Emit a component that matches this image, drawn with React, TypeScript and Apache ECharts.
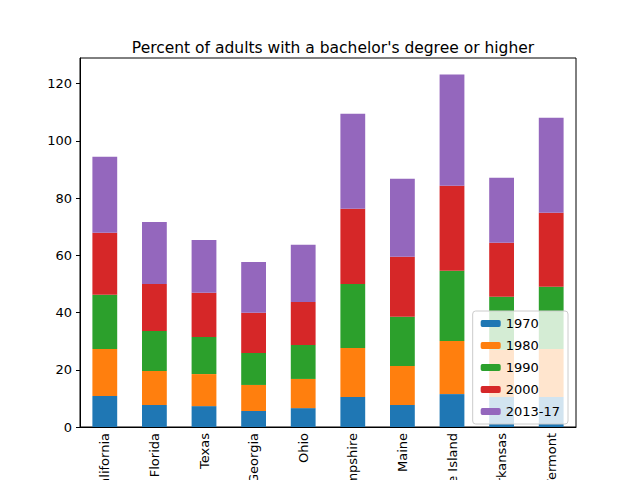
import { useEffect, useRef } from 'react';
import * as echarts from 'echarts';

const states = ['California', 'Florida', 'Texas', 'Georgia', 'Ohio', 'New Hampshire', 'Maine', 'Rhode Island', 'Arkansas', 'Vermont'];
const y1970 = [10.8, 7.7, 7.3, 5.6, 6.6, 10.5, 7.7, 11.5, 10.5, 10.5];
const y1980 = [16.5, 11.9, 11.2, 9.1, 10.2, 17.1, 13.6, 18.6, 16.5, 16.8];
const y1990 = [18.9, 14.0, 13.0, 11.2, 11.9, 22.4, 17.2, 24.5, 18.5, 21.7];
const y2000 = [21.7, 16.4, 15.4, 14.0, 15.0, 26.3, 21.0, 29.7, 18.9, 25.9];
const y2013 = [26.6, 21.7, 18.5, 17.8, 20.0, 33.2, 27.3, 38.9, 22.7, 33.2];

const seriesNames = ['1970', '1980', '1990', '2000', '2013-17'];
const seriesData = [y1970, y1980, y1990, y2000, y2013];
const colors = ['#1f77b4', '#ff7f0e', '#2ca02c', '#d62728', '#9467bd'];

export default function App() {
  const ref = useRef<HTMLDivElement>(null);

  useEffect(() => {
    if (!ref.current) return;
    const chart = echarts.init(ref.current, undefined, { renderer: 'svg' });
    chart.setOption({
      animation: false,
      textStyle: { fontFamily: 'DejaVu Sans' },
      title: {
        text: "Percent of adults with a bachelor's degree or higher",
        left: 328, top: 35, textAlign: 'center',
        textStyle: { fontSize: 15.5, fontWeight: 'normal', color: '#000' },
      },
      grid: {
        left: 80, right: 64, top: 58, bottom: 53, show: true, borderColor: '#000', borderWidth: 1,
        containLabel: false, outerBoundsMode: 'none',
      },
      legend: {
        orient: 'vertical', right: 72, top: 311,
        itemWidth: 20, itemHeight: 7, itemGap: 9,
        backgroundColor: 'rgba(255,255,255,0.8)', borderColor: '#ccc', borderWidth: 1, borderRadius: 3,
        padding: [6, 8, 6, 8],
        textStyle: { fontSize: 13, color: '#000' },
        data: seriesNames,
      },
      xAxis: {
        type: 'category', data: states,
        axisLine: { lineStyle: { color: '#000' } },
        axisTick: { alignWithLabel: true, length: 4, lineStyle: { color: '#000' } },
        axisLabel: { rotate: 90, color: '#000', fontSize: 13, margin: 6, interval: 0 },
      },
      yAxis: {
        type: 'value', min: 0, max: 129, interval: 20,
        axisLine: { show: true, lineStyle: { color: '#000' } },
        axisTick: { show: true, length: 4, lineStyle: { color: '#000' } },
        axisLabel: { color: '#000', fontSize: 13, showMaxLabel: false },
        splitLine: { show: false },
      },
      series: seriesNames.map((name, i) => ({
        name, type: 'bar', stack: 'total', data: seriesData[i],
        barWidth: '50%', itemStyle: { color: colors[i] },
      })),
    });
    return () => chart.dispose();
  }, []);

  return <div ref={ref} style={{ width: 640, height: 480, position: 'absolute', left: 0, top: 0 }} />;
}
